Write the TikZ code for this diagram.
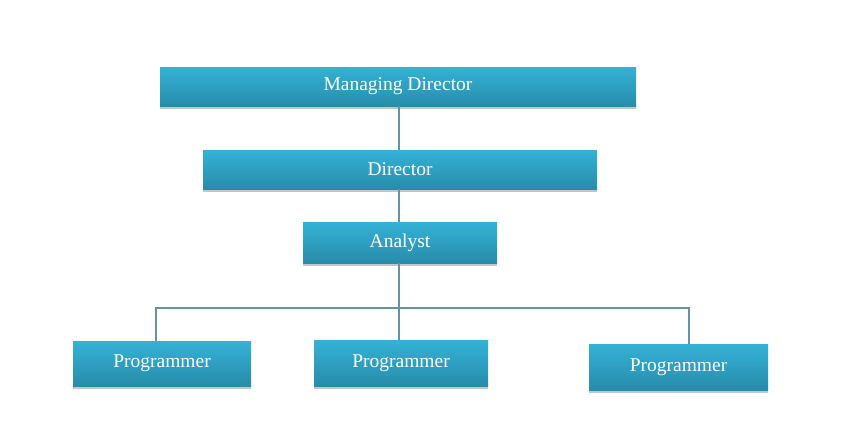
\documentclass[tikz,border=0pt]{standalone}
\usepackage{fontspec}
\setmainfont{Liberation Serif}
\usetikzlibrary{shadows}
\definecolor{boxtop}{RGB}{52,178,214}
\definecolor{boxbot}{RGB}{40,140,170}
\definecolor{linec}{RGB}{105,145,165}
\tikzset{
  orgbox/.style={rectangle, top color=boxtop, bottom color=boxbot, draw=none,
    text=white, font=\fontsize{19.5}{22}\selectfont, inner sep=0pt,
    drop shadow={shadow xshift=0pt, shadow yshift=-2.5pt, fill=black!45, opacity=0.5}},
  conn/.style={draw=linec, line width=1.1pt}
}
\begin{document}
\begin{tikzpicture}[x=1pt,y=-1pt]
\useasboundingbox (0,0) rectangle (867,439);
\node[orgbox, minimum width=476pt, minimum height=39pt] (md) at (398,86.5) {Managing Director};
\node[orgbox, minimum width=394pt, minimum height=39pt] (dir) at (400,169.5) {Director};
\node[orgbox, minimum width=194pt, minimum height=41pt] (an) at (400,242.5) {Analyst};
\node[orgbox, minimum width=178pt, minimum height=45pt] (p1) at (162,363.5) {Programmer};
\node[orgbox, minimum width=174pt, minimum height=46pt] (p2) at (401,363) {Programmer};
\node[orgbox, minimum width=179pt, minimum height=46pt] (p3) at (678.5,367) {Programmer};
\coordinate (busl) at (156,308);
\coordinate (busr) at (689,308);
\coordinate (busm) at (399,308);
\draw[conn] (md.south -| busm) -- (dir.north -| busm);
\draw[conn] (dir.south -| busm) -- (an.north -| busm);
\draw[conn] (an.south -| busm) -- (busm);
\draw[conn] (busm) -- (p2.north -| busm);
\draw[conn] (p1.north -| busl) -- (busl) -- (busr) -- (p3.north -| busr);
\end{tikzpicture}
\end{document}
